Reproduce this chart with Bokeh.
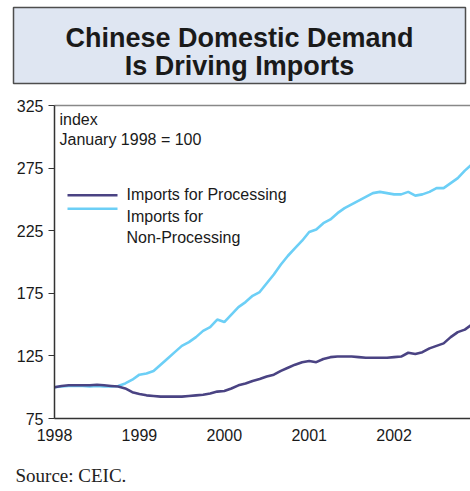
from bokeh.plotting import figure
from bokeh.layouts import column
from bokeh.models import Label, Arrow, LinearAxis, FixedTicker, ColumnDataSource
from bokeh.embed import file_html
from bokeh.resources import INLINE

# ---- data (monthly index, January 1998 = 100) ----
start_year = 1998
year_ticks = [1998, 1999, 2000, 2001, 2002]
y_ticks = [75, 125, 175, 225, 275, 325]

processing = [
    100, 101, 101.5, 101.5, 101.5, 101.5, 102, 101.5, 101, 100.5, 99, 96,        # 1998
    94.5, 93.5, 93, 92.5, 92.5, 92.5, 92.5, 93, 93.5, 94, 95, 96.5,               # 1999
    97, 99, 101.5, 103, 105, 106.5, 108.5, 110, 113, 115.5, 118, 120,             # 2000
    121, 120, 122.5, 124, 124.5, 124.5, 124.5, 124, 123.5, 123.5, 123.5, 123.5,  # 2001
    124, 124.5, 127.5, 126.5, 128, 131, 133, 135, 140, 144, 146, 150,            # 2002
]
non_processing = [
    100, 100.5, 101, 101, 101, 100.5, 101, 100.5, 100.5, 101, 103, 106,          # 1998
    110, 111, 113, 118, 123, 128, 133, 136, 140, 145, 148, 154,                  # 1999
    152, 158, 164, 168, 173, 176, 183, 190, 198, 205, 211, 217,                  # 2000
    224, 226, 231, 234, 239, 243, 246, 249, 252, 255, 256, 255,                  # 2001
    254, 254, 256, 253, 254, 256, 259, 259, 263, 267, 273, 278,                  # 2002
]
months = list(range(len(processing)))
x_vals = [start_year + m / 12 for m in months]

title_lines = ["Chinese Domestic Demand", "Is Driving Imports"]
series_names = ["Imports for Processing", "Imports for", "Non-Processing"]
note_lines = ["index", "January 1998 = 100"]
source_text = "Source: CEIC."

SANS = "Liberation Sans"
DARK = "#4a4383"
LIGHT = "#6ccff6"
TXT = "#1a1a1a"

# ---- title box figure ----
t = figure(width=470, height=86, x_range=(0, 1), y_range=(0, 1),
           x_axis_type=None, y_axis_type=None,
           output_backend="svg", toolbar_location=None, frame_align=False,
           min_border_left=13, min_border_right=5, min_border_top=7, min_border_bottom=3)
t.grid.visible = False
t.background_fill_color = "#dfe6f2"
t.border_fill_color = "white"
t.outline_line_color = "#4d4d4d"
t.outline_line_width = 1.5
for txt, yy in zip(title_lines, [46, 18]):
    t.add_layout(Label(x=226, y=yy, x_units="screen", y_units="screen", text=txt,
                       text_align="center", text_baseline="alphabetic",
                       text_font=SANS, text_font_style="bold", text_font_size="27px",
                       text_color=TXT))

# ---- main chart ----
src = ColumnDataSource(dict(x=x_vals, proc=processing, nonproc=non_processing))
p = figure(width=470, height=369, x_range=(start_year, 2002.9), y_range=(75, 325),
           output_backend="svg", toolbar_location=None, frame_align=False,
           min_border_left=54, min_border_right=0, min_border_top=19, min_border_bottom=37)
p.grid.visible = False
p.outline_line_color = None
p.background_fill_color = "white"
p.border_fill_color = "white"

p.line("x", "nonproc", source=src, line_color=LIGHT, line_width=2.6)
p.line("x", "proc", source=src, line_color=DARK, line_width=2.6)

xa = p.xaxis[0]
xa.ticker = FixedTicker(ticks=year_ticks)
xa.major_tick_out = 0
xa.major_tick_in = 0
xa.minor_tick_out = 0
xa.minor_tick_in = 0
xa.axis_line_color = "#333333"
xa.axis_line_width = 1.5
xa.major_label_standoff = 10
xa.major_label_text_font = SANS
xa.major_label_text_font_size = "16px"
xa.major_label_text_color = TXT

ya = p.yaxis[0]
ya.ticker = FixedTicker(ticks=y_ticks)
ya.major_tick_out = 6
ya.major_tick_in = 0
ya.minor_tick_out = 0
ya.minor_tick_in = 0
ya.axis_line_color = "#333333"
ya.axis_line_width = 1.5
ya.major_tick_line_color = "#333333"
ya.major_tick_line_width = 1.2
ya.major_label_standoff = 5
ya.major_label_text_font = SANS
ya.major_label_text_font_size = "16px"
ya.major_label_text_color = TXT

top = LinearAxis(ticker=FixedTicker(ticks=[]), axis_line_color="#888888", axis_line_width=1.5,
                 major_tick_out=0, major_tick_in=0, minor_tick_out=0, minor_tick_in=0,
                 major_label_standoff=0, major_label_text_font_size="0px")
p.add_layout(top, "above")

# notes
for txt, yy in zip(note_lines, [299, 279]):
    p.add_layout(Label(x=5, y=yy, x_units="screen", y_units="screen", text=txt,
                       text_baseline="alphabetic", text_font=SANS, text_font_size="16px",
                       text_color=TXT))

# legend
p.add_layout(Arrow(x_start=13, y_start=223.3, x_end=63, y_end=223.3,
                   start_units="screen", end_units="screen", start=None, end=None,
                   line_color=DARK, line_width=2.6))
p.add_layout(Arrow(x_start=13, y_start=209.7, x_end=63, y_end=209.7,
                   start_units="screen", end_units="screen", start=None, end=None,
                   line_color=LIGHT, line_width=2.6))
for txt, yy in zip(series_names, [224, 202.3, 181]):
    p.add_layout(Label(x=72, y=yy, x_units="screen", y_units="screen", text=txt,
                       text_baseline="alphabetic", text_font=SANS, text_font_size="16px",
                       text_color=TXT))

# ---- source line ----
s = figure(width=470, height=36, x_range=(0, 1), y_range=(0, 1),
           x_axis_type=None, y_axis_type=None,
           output_backend="svg", toolbar_location=None, frame_align=False,
           min_border_left=0, min_border_right=0, min_border_top=0, min_border_bottom=0)
s.grid.visible = False
s.outline_line_color = None
s.add_layout(Label(x=15, y=16.3, x_units="screen", y_units="screen", text=source_text,
                   text_baseline="alphabetic", text_font="Liberation Serif",
                   text_font_size="19px", text_color="#222222"))

layout = column(t, p, s, spacing=0)
open("out.html", "w").write(file_html(layout, INLINE))
